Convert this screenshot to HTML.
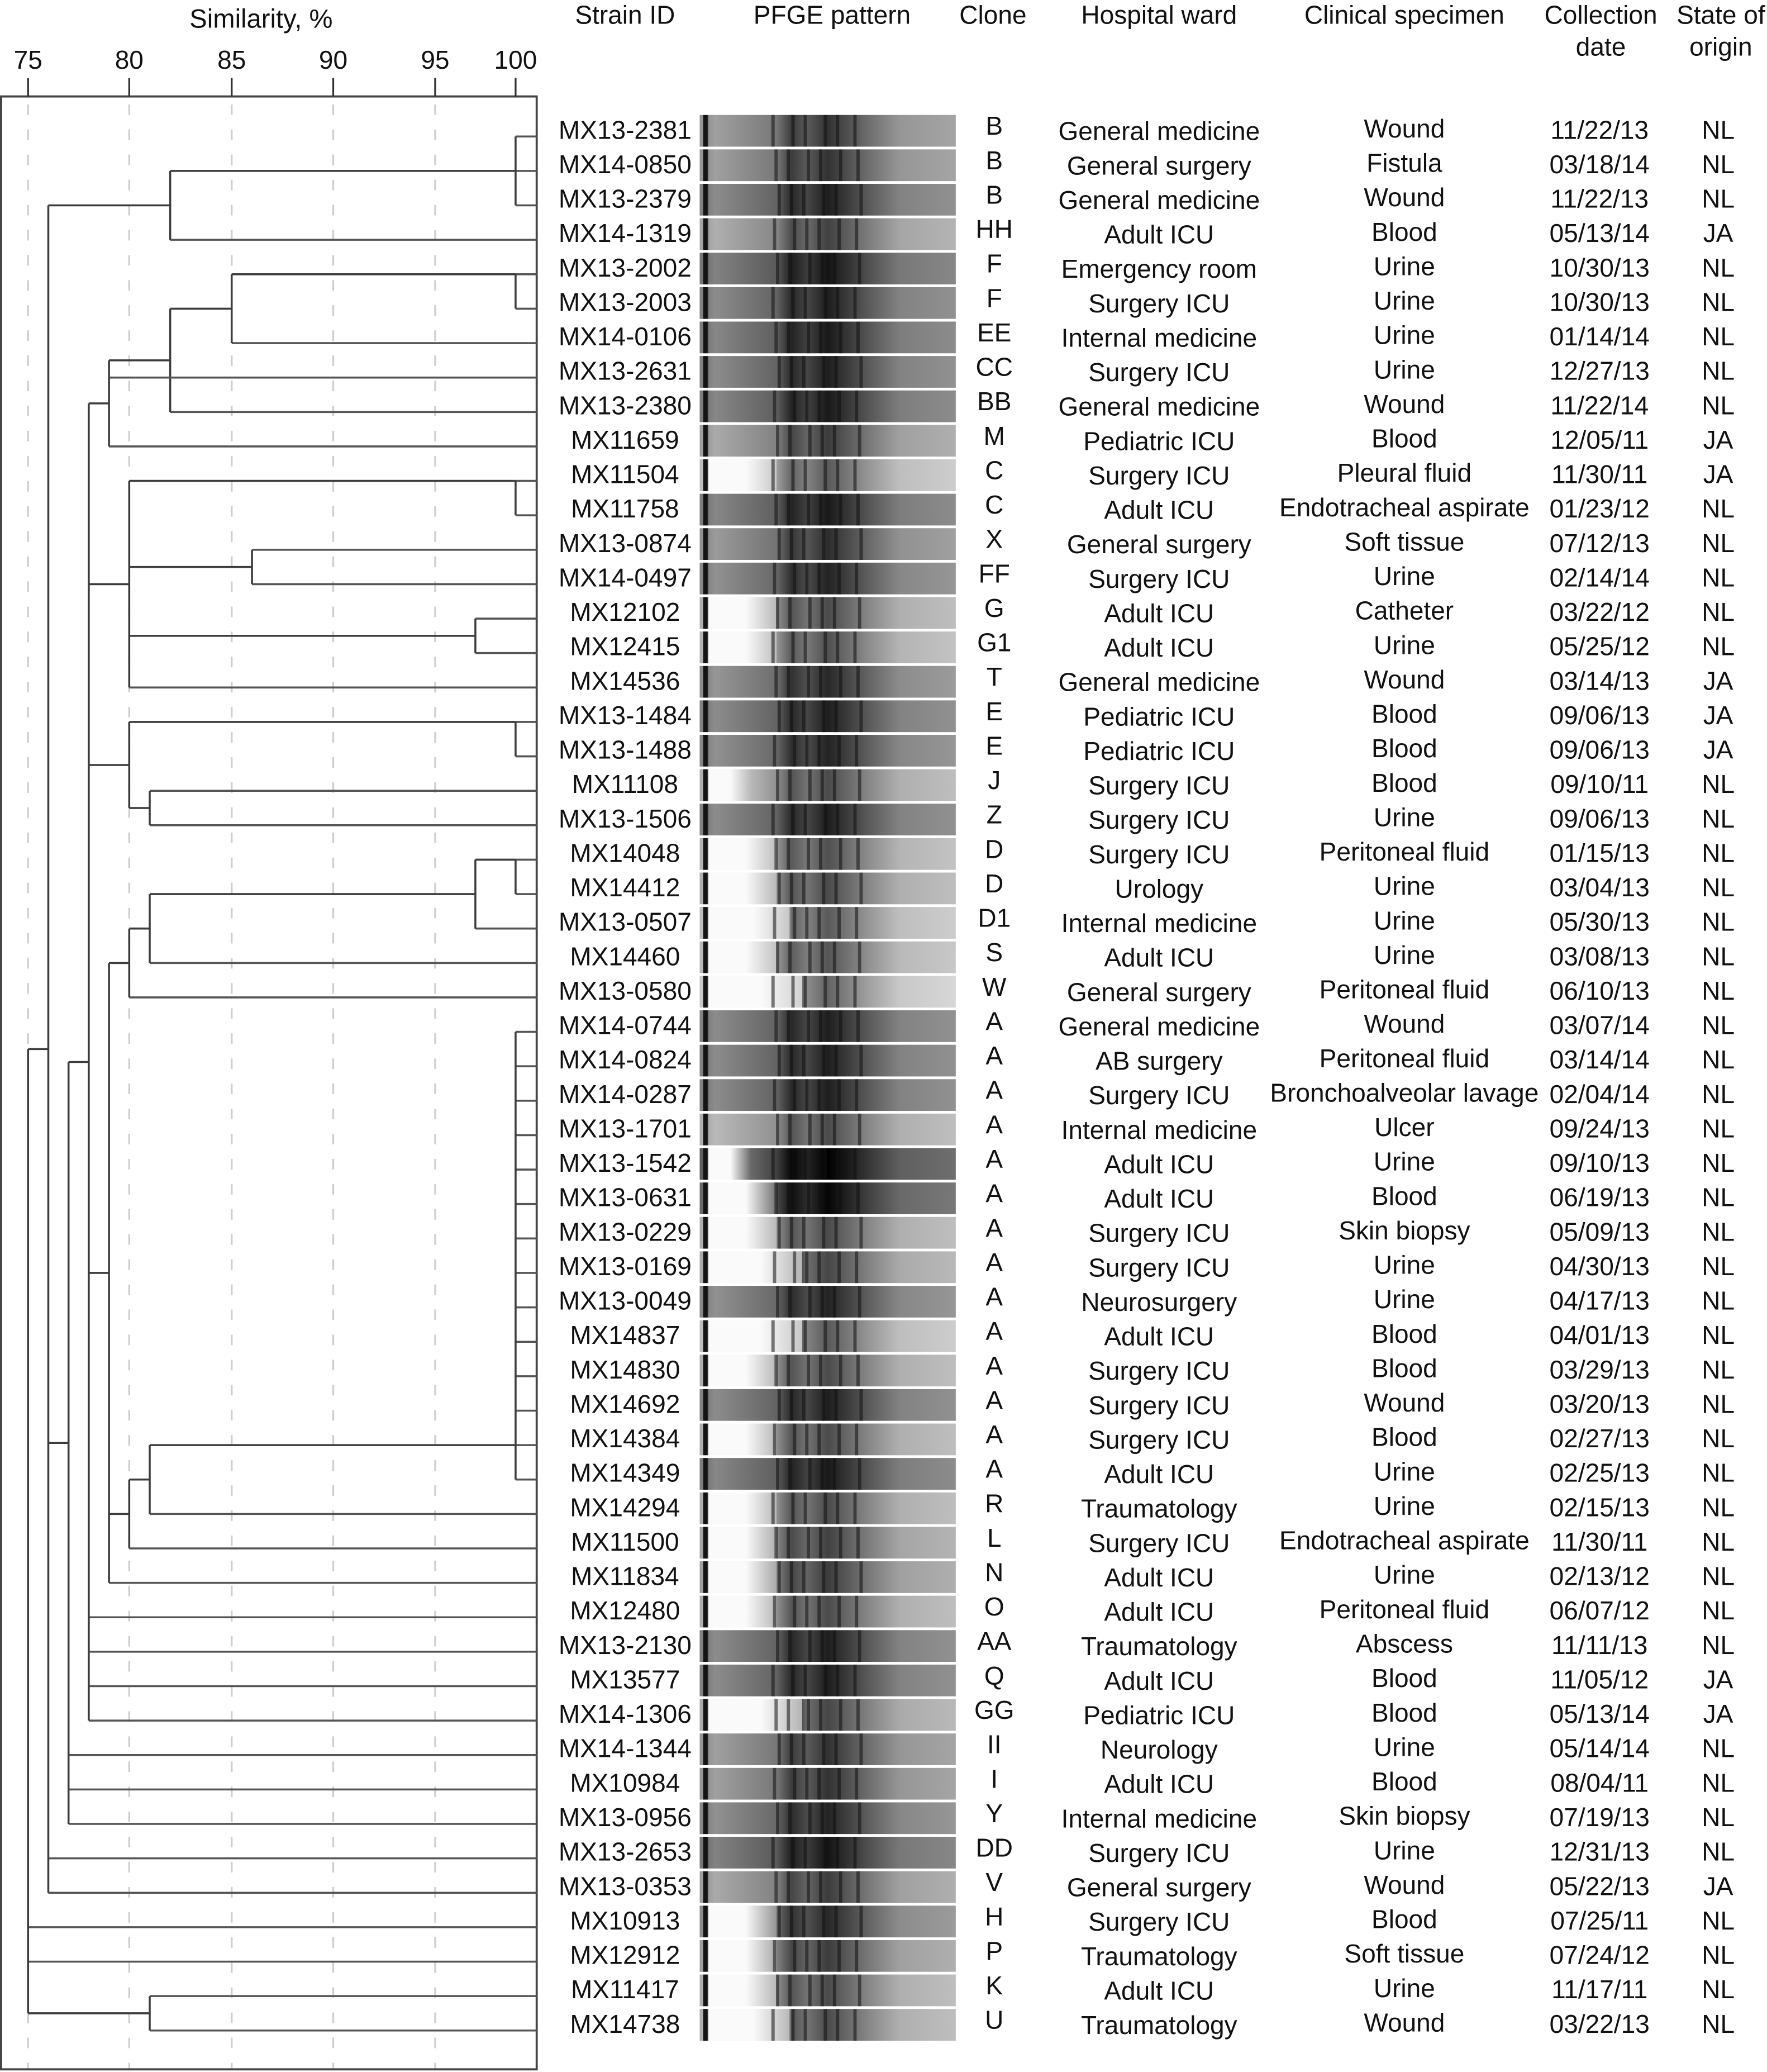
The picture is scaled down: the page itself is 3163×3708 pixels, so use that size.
<!DOCTYPE html>
<html><head><meta charset="utf-8"><title>PFGE dendrogram</title>
<style>
html,body{margin:0;padding:0;background:#fff;}
svg{display:block;font-family:"Liberation Sans",Arial,sans-serif;}
</style></head>
<body>
<svg id="fig" width="3163" height="3708" viewBox="0 0 1340 1568" preserveAspectRatio="none" xmlns="http://www.w3.org/2000/svg">
<defs id="defs"></defs>
<g id="grid"></g>
<g id="axis"></g>
<g id="tree"></g>
<g id="gel"></g>
<g id="table"></g>
</svg>
<script>
const tickValues = [75, 80, 85, 90, 95, 100];
const tickLabels = ["75", "80", "85", "90", "95", "100"];
const strainIds = ["MX13-2381","MX14-0850","MX13-2379","MX14-1319","MX13-2002","MX13-2003","MX14-0106","MX13-2631","MX13-2380","MX11659","MX11504","MX11758","MX13-0874","MX14-0497","MX12102","MX12415","MX14536","MX13-1484","MX13-1488","MX11108","MX13-1506","MX14048","MX14412","MX13-0507","MX14460","MX13-0580","MX14-0744","MX14-0824","MX14-0287","MX13-1701","MX13-1542","MX13-0631","MX13-0229","MX13-0169","MX13-0049","MX14837","MX14830","MX14692","MX14384","MX14349","MX14294","MX11500","MX11834","MX12480","MX13-2130","MX13577","MX14-1306","MX14-1344","MX10984","MX13-0956","MX13-2653","MX13-0353","MX10913","MX12912","MX11417","MX14738"];
const clones = ["B","B","B","HH","F","F","EE","CC","BB","M","C","C","X","FF","G","G1","T","E","E","J","Z","D","D","D1","S","W","A","A","A","A","A","A","A","A","A","A","A","A","A","A","R","L","N","O","AA","Q","GG","II","I","Y","DD","V","H","P","K","U"];
const wards = ["General medicine","General surgery","General medicine","Adult ICU","Emergency room","Surgery ICU","Internal medicine","Surgery ICU","General medicine","Pediatric ICU","Surgery ICU","Adult ICU","General surgery","Surgery ICU","Adult ICU","Adult ICU","General medicine","Pediatric ICU","Pediatric ICU","Surgery ICU","Surgery ICU","Surgery ICU","Urology","Internal medicine","Adult ICU","General surgery","General medicine","AB surgery","Surgery ICU","Internal medicine","Adult ICU","Adult ICU","Surgery ICU","Surgery ICU","Neurosurgery","Adult ICU","Surgery ICU","Surgery ICU","Surgery ICU","Adult ICU","Traumatology","Surgery ICU","Adult ICU","Adult ICU","Traumatology","Adult ICU","Pediatric ICU","Neurology","Adult ICU","Internal medicine","Surgery ICU","General surgery","Surgery ICU","Traumatology","Adult ICU","Traumatology"];
const specimens = ["Wound","Fistula","Wound","Blood","Urine","Urine","Urine","Urine","Wound","Blood","Pleural fluid","Endotracheal aspirate","Soft tissue","Urine","Catheter","Urine","Wound","Blood","Blood","Blood","Urine","Peritoneal fluid","Urine","Urine","Urine","Peritoneal fluid","Wound","Peritoneal fluid","Bronchoalveolar lavage","Ulcer","Urine","Blood","Skin biopsy","Urine","Urine","Blood","Blood","Wound","Blood","Urine","Urine","Endotracheal aspirate","Urine","Peritoneal fluid","Abscess","Blood","Blood","Urine","Blood","Skin biopsy","Urine","Wound","Blood","Soft tissue","Urine","Wound"];
const dates = ["11/22/13","03/18/14","11/22/13","05/13/14","10/30/13","10/30/13","01/14/14","12/27/13","11/22/14","12/05/11","11/30/11","01/23/12","07/12/13","02/14/14","03/22/12","05/25/12","03/14/13","09/06/13","09/06/13","09/10/11","09/06/13","01/15/13","03/04/13","05/30/13","03/08/13","06/10/13","03/07/14","03/14/14","02/04/14","09/24/13","09/10/13","06/19/13","05/09/13","04/30/13","04/17/13","04/01/13","03/29/13","03/20/13","02/27/13","02/25/13","02/15/13","11/30/11","02/13/12","06/07/12","11/11/13","11/05/12","05/13/14","05/14/14","08/04/11","07/19/13","12/31/13","05/22/13","07/25/11","07/24/12","11/17/11","03/22/13"];
const states = ["NL","NL","NL","JA","NL","NL","NL","NL","NL","JA","JA","NL","NL","NL","NL","NL","JA","JA","JA","NL","NL","NL","NL","NL","NL","NL","NL","NL","NL","NL","NL","NL","NL","NL","NL","NL","NL","NL","NL","NL","NL","NL","NL","NL","NL","JA","JA","NL","NL","NL","NL","JA","NL","NL","NL","NL"];
// Dendrogram: [similarity %, children...]; integers are leaf (row) indices
const clusterT0 = [82, [100, 0, 1, 2], 3];
const clusterTb = [79, [82, [85, [100, 4, 5], 6], 8], 7, 9];
const clusterTc = [80, [100, 10, 11], [86, 12, 13], [97.5, 14, 15], 16];
const clusterTd = [80, [100, 17, 18], [81, 19, 20]];
const clusterTg = [80, [81, [97.5, [100, 21, 22], 23], 24], 25];
const clusterTk = [80, [81, [100, 26, 27, 28, 29, 30, 31, 32, 33, 34, 35, 36, 37, 38, 39], 40], 41];
const clusterTf = [79, clusterTg, clusterTk, 42];
const clusterM = [78, clusterTb, clusterTc, clusterTd, clusterTf, 43, 44, 45, 46];
const clusterL = [77, clusterM, 47, 48, 49];
const clusterN = [76, clusterT0, clusterL, 50, 51];
const treeRoot = [75, clusterN, 52, 53, [81, 54, 55]];
// gel lane tones (base gray) and left fade fraction per row
const gelTone = [150,150,130,165,120,130,125,130,125,160,190,125,145,135,175,180,140,130,135,175,130,180,175,190,185,200,130,130,130,175,95,105,175,170,135,190,175,130,175,125,175,165,160,175,130,130,170,150,150,135,120,160,140,160,175,175];
const gelFade = [0,0,0,0,0,0,0,0,0,0,0.3,0,0,0,0.3,0.3,0,0,0,0.2,0,0.3,0.3,0.35,0.3,0.4,0,0,0,0,0.2,0.3,0.3,0.4,0,0.4,0.3,0,0.3,0,0.3,0.3,0.3,0.3,0,0,0.4,0,0,0,0,0,0.3,0.3,0.3,0.35];

const NS = "http://www.w3.org/2000/svg";
const tickX = [21.3, 98, 175.7, 252.7, 330, 391];
const BOX = {l: 0.8, r: 407, t: 73, b: 1566};
function xScale(s){
  for (let k = 0; k < tickValues.length - 1; k++){
    if (s <= tickValues[k+1]) return tickX[k] + (s - tickValues[k]) / (tickValues[k+1] - tickValues[k]) * (tickX[k+1] - tickX[k]);
  }
  return tickX[tickX.length-1];
}
function leafY(i){ return 103.3 + i * 26.06; }
function rowY(i){ return 98 + i * 26.06; }
function mk(tag, attrs, parent){
  const e = document.createElementNS(NS, tag);
  for (const k in attrs) e.setAttribute(k, attrs[k]);
  parent.appendChild(e); return e;
}
const grid = document.getElementById('grid'), axis = document.getElementById('axis'), tree = document.getElementById('tree'), gel = document.getElementById('gel'), table = document.getElementById('table'), defs = document.getElementById('defs');

tickValues.forEach((v, k) => {
  if (v === 100) return;
  const l = mk('line', {x1: xScale(v), x2: xScale(v), y1: BOX.t + 6, y2: BOX.b, stroke: '#cfcfcf', 'stroke-width': 1.4, 'stroke-dasharray': '8 11'}, grid);
  
  
});
const box = mk('rect', {x: BOX.l, y: BOX.t, width: BOX.r - BOX.l, height: BOX.b - BOX.t, fill: 'none', stroke: '#444', 'stroke-width': 1.6}, axis);


tickValues.forEach((v, k) => {
  const t = mk('line', {x1: xScale(v), x2: xScale(v), y1: 59, y2: BOX.t, stroke: '#333', 'stroke-width': 1.4}, axis);
  
  
  const tl = mk('text', {x: xScale(v), y: 52, 'text-anchor': 'middle', 'font-size': 19.5, fill: '#111'}, axis);
  tl.textContent = tickLabels[k];
  
  
});
const title = mk('text', {x: 198, y: 21, 'text-anchor': 'middle', 'font-size': 20, fill: '#111'}, axis);
title.textContent = 'Similarity, %';



const LINE = '#3c3c3c';
function drawNode(node){
  if (typeof node === 'number'){
    return {x: BOX.r, y: leafY(node)};
  }
  const s = node[0];
  const x = xScale(s);
  const kids = node.slice(1).map(drawNode);
  const ys = kids.map(k => k.y);
  const y0 = Math.min(...ys), y1 = Math.max(...ys);
  kids.forEach((k, idx) => {
    const h = mk('line', {x1: x, x2: k.x, y1: k.y, y2: k.y, stroke: (typeof node[idx+1] === 'number') ? '#555' : LINE, 'stroke-width': 1.5}, tree);
    
    
  });
  const v = mk('line', {x1: x, x2: x, y1: y0, y2: y1, stroke: LINE, 'stroke-width': 1.5}, tree);
  
  
  // identical-pattern clusters are anchored at their second-to-last member
  const ny = (s >= 100 && kids.length >= 2) ? ys[ys.length - 2] : (y0 + y1) / 2;
  return {x: x, y: ny};
}
drawNode(treeRoot);

const GX0 = 530.6, GX1 = 724.8;
strainIds.forEach((id, i) => {
  const g = mk('linearGradient', {id: 'gg' + i, x1: 0, x2: 1, y1: 0, y2: 0}, defs);
  const b = gelTone[i], f = gelFade[i];
  const c = v => { v = Math.max(0, Math.min(255, Math.round(v))); return 'rgb(' + v + ',' + v + ',' + v + ')'; };
  const stops = [[0, b], [0.012, b], [0.015, 20], [0.03, 20], [0.035, f > 0 ? 250 : b], [Math.max(0.04, f * 0.6), f > 0 ? 250 : b], [Math.max(0.06, f), b + 10], [0.3, b - 30], [0.36, b - 90], [0.42, b - 60], [0.5, b - 100], [0.58, b - 70], [0.66, b - 40], [0.78, b], [1, b + 15]];
  stops.forEach(st => mk('stop', {offset: st[0], 'stop-color': c(st[1])}, g));
  const r = mk('rect', {x: GX0, y: rowY(i) - 11, width: GX1 - GX0, height: 24, fill: 'url(#gg' + i + ')'}, gel);
  
  
  [0.28, 0.34, 0.4, 0.46, 0.52, 0.6].forEach((p, j) => {
    const bx = GX0 + (p + ((i * 7 + j * 3) % 5) * 0.006) * (GX1 - GX0);
    const band = mk('rect', {x: bx, y: rowY(i) - 11, width: 2.5, height: 24, fill: '#111', opacity: 0.55}, gel);
    
    
  });
});

const headers = [["Strain ID", 474, 18], ["PFGE pattern", 631, 18], ["Clone", 753, 18], ["Hospital ward", 879, 18], ["Clinical specimen", 1065, 18], ["Collection", 1214, 18], ["date", 1214, 42], ["State of", 1305, 18], ["origin", 1305, 42]];
headers.forEach(h => {
  const t = mk('text', {x: h[1], y: h[2], 'text-anchor': 'middle', 'font-size': 19.5, fill: '#111'}, table);
  t.textContent = h[0];
  
  
});
const cols = [[strainIds, 474, 7, 'strain-id'], [clones, 754, 4, 'clone'], [wards, 879, 8, 'hospital-ward'], [specimens, 1065, 6, 'clinical-specimen'], [dates, 1213, 7, 'collection-date'], [states, 1303, 7, 'state-of-origin']];
cols.forEach(col => {
  col[0].forEach((txt, i) => {
    const t = mk('text', {x: col[1], y: rowY(i) + col[2], 'text-anchor': 'middle', 'font-size': 19.5, fill: '#111'}, table);
    t.textContent = txt;
    
    
  });
});
</script>
</body></html>
